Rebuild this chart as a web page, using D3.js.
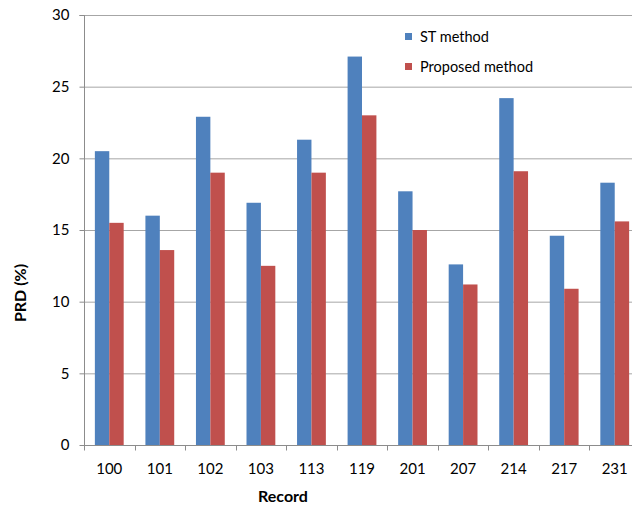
<!DOCTYPE html>
<html><head><meta charset="utf-8">
<script src="https://cdn.jsdelivr.net/npm/d3@7"></script>
<style>body{margin:0;background:#fff;} svg{display:block;}</style>
</head><body>
<svg id="c" width="632" height="506"></svg>
<script>
const categories = ["100","101","102","103","113","119","201","207","214","217","231"];
const seriesNames = ["ST method","Proposed method"];
const stValues = [20.5,16.0,22.9,16.9,21.3,27.1,17.7,12.6,24.2,14.6,18.3];
const proposedValues = [15.5,13.6,19.0,12.5,19.0,23.0,15.0,11.2,19.1,10.9,15.6];
const yTicks = [0,5,10,15,20,25,30];
const colors = ["#4f81bd","#c0504d"];

(function(){
const font = "Lato, 'Open Sans', sans-serif";
const svg = d3.select("#c");
const pLeft = 84, pRight = 640, pTop = 15, pBottom = 445;

const x0 = d3.scaleBand().domain(categories).range([pLeft, pRight]).paddingInner(0.43).paddingOuter(0.215);
const x1 = d3.scaleBand().domain(seriesNames).range([0, x0.bandwidth()]);
const y = d3.scaleLinear().domain([0,30]).range([pBottom, pTop]);

// gridlines
svg.append("g").selectAll("line").data(yTicks.filter(d=>d>0)).join("line")
  .attr("x1", pLeft).attr("x2", pRight)
  .attr("y1", d=>y(d)+0.5).attr("y2", d=>y(d)+0.5)
  .attr("stroke", "#a6a6a6").attr("stroke-width", 1);

// bars
const data = categories.map((c,i)=>({c, vals:[stValues[i], proposedValues[i]]}));
const g = svg.append("g");
data.forEach(d=>{
  d.vals.forEach((v,j)=>{
    g.append("rect")
      .attr("x", x0(d.c)+x1(seriesNames[j]))
      .attr("y", y(v))
      .attr("width", x1.bandwidth())
      .attr("height", y(0)-y(v))
      .attr("fill", colors[j]);
  });
});

// y axis
const yAxis = d3.axisLeft(y).tickValues(yTicks).tickSize(5).tickPadding(10).tickFormat(d3.format("d"));
const ya = svg.append("g").attr("transform", `translate(${pLeft+0.5},0)`).call(yAxis);
ya.select(".domain").attr("stroke","#8c8c8c").attr("d", `M-5,${pTop+0.5}H0V${pBottom+5}`);
ya.selectAll(".tick line").attr("stroke","#8c8c8c");
ya.selectAll("text").attr("font-family", font).attr("font-size", 15).attr("fill","#000");

// x axis
const xa = svg.append("g").attr("transform", `translate(0,${pBottom+0.5})`);
xa.append("line").attr("x1", pLeft).attr("x2", pRight).attr("stroke","#8c8c8c");
const bounds = d3.range(categories.length+1).map(i=> i===0 ? pLeft : x0(categories[i-1]) + x0.bandwidth() + x0.step()*x0.paddingInner()/2);
xa.selectAll("line.t").data(bounds).join("line").attr("class","t")
  .attr("x1", d=>Math.round(d)+0.5).attr("x2", d=>Math.round(d)+0.5).attr("y1",0).attr("y2",5).attr("stroke","#8c8c8c");
xa.selectAll("text").data(categories).join("text")
  .attr("x", d=>x0(d)+x0.bandwidth()/2).attr("y", 28)
  .attr("text-anchor","middle").attr("font-family", font).attr("font-size", 15).attr("fill","#000")
  .text(d=>d);

// axis titles
svg.append("text").attr("x", 283).attr("y", 502).attr("text-anchor","middle")
  .attr("font-family", font).attr("font-size", 16).attr("font-weight","bold").text("Record");
svg.append("text").attr("transform","translate(26,293) rotate(-90)").attr("text-anchor","middle")
  .attr("font-family", font).attr("font-size", 16).attr("font-weight","bold").text("PRD (%)");

// legend
const lg = svg.append("g");
seriesNames.forEach((s,i)=>{
  const yy = 33 + i*30;
  lg.append("rect").attr("x",405).attr("y",yy).attr("width",7).attr("height",7).attr("fill",colors[i]);
  lg.append("text").attr("x",420).attr("y",yy+9).attr("font-family",font).attr("font-size",14.5).attr("fill","#000").text(s);
});
})();
</script>
</body></html>
